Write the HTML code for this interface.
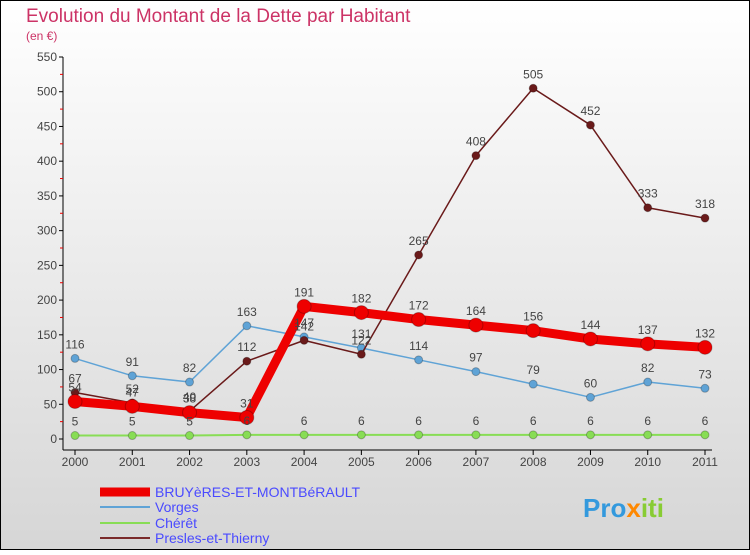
<!DOCTYPE html>
<html><head><meta charset="utf-8"><style>
html,body{margin:0;padding:0}
body{width:750px;height:550px;overflow:hidden;font-family:"Liberation Sans",sans-serif}
svg text{font-family:"Liberation Sans",sans-serif}
</style></head><body>
<svg width="750" height="550" xmlns="http://www.w3.org/2000/svg">
<defs><linearGradient id="bg" x1="0" y1="0" x2="0" y2="1"><stop offset="0" stop-color="#ffffff"/><stop offset="1" stop-color="#d6d6d6"/></linearGradient></defs>
<rect x="0.5" y="0.5" width="749" height="549" fill="url(#bg)" stroke="#000"/>
<text x="26" y="22" font-size="19" fill="#cc3366">Evolution du Montant de la Dette par Habitant</text>
<text x="26" y="40" font-size="12" fill="#cc3366">(en €)</text>
<g id="axes"></g><g id="series"></g><g id="labels"></g>
<g font-size="14" fill="#4a4aff">
<line x1="100" y1="492" x2="150" y2="492" stroke="#ee0000" stroke-width="9"/>
<text x="155" y="497">BRUYèRES-ET-MONTBéRAULT</text>
<line x1="100" y1="507" x2="150" y2="507" stroke="#5fa3d6" stroke-width="2"/>
<text x="155" y="512">Vorges</text>
<line x1="100" y1="523" x2="150" y2="523" stroke="#88dd55" stroke-width="2"/>
<text x="155" y="528">Chérêt</text>
<line x1="100" y1="538" x2="150" y2="538" stroke="#7a2a2a" stroke-width="2"/>
<text x="155" y="543">Presles-et-Thierny</text>
</g>
<text x="583" y="517" font-size="26" font-weight="bold"><tspan fill="#3399dd">Pro</tspan><tspan fill="#ff8800">x</tspan><tspan fill="#88cc33">iti</tspan></text>
</svg>
<script>
const years=[2000,2001,2002,2003,2004,2005,2006,2007,2008,2009,2010,2011];
const yTicks=[0,50,100,150,200,250,300,350,400,450,500,550];
const bruyeres=[54,47,38,31,191,182,172,164,156,144,137,132];
const vorges=[116,91,82,163,147,131,114,97,79,60,82,73];
const cheret=[5,5,5,6,6,6,6,6,6,6,6,6];
const presles=[67,52,40,112,142,122,265,408,505,452,333,318];
const NS="http://www.w3.org/2000/svg";
const xs=i=>75+i*(630/(years.length-1));
const ys=v=>439-v*(382/550);
function mk(t,a,p){const e=document.createElementNS(NS,t);for(const k in a)e.setAttribute(k,a[k]);p.appendChild(e);return e;}
const ax=document.getElementById('axes'),se=document.getElementById('series'),lb=document.getElementById('labels');
let yl=mk('line',{x1:63,y1:ys(550),x2:63,y2:450,stroke:'#000'},ax);


let xl=mk('line',{x1:63,y1:450,x2:712,y2:450,stroke:'#000'},ax);


yTicks.forEach((v,i)=>{
 mk('line',{x1:59,y1:ys(v),x2:63,y2:ys(v),stroke:'#000'},ax);
 if(i<yTicks.length-1)mk('line',{x1:60,y1:ys(v+25),x2:63,y2:ys(v+25),stroke:'#e00'},ax);
 const t=mk('text',{x:57,y:ys(v)+4,'font-size':12,fill:'#444','text-anchor':'end'},ax);
 
 
 t.textContent=v;
});
years.forEach((y,i)=>{
 mk('line',{x1:xs(i),y1:450,x2:xs(i),y2:455,stroke:'#000'},ax);
 const t=mk('text',{x:xs(i),y:466,'font-size':12,fill:'#444','text-anchor':'middle'},ax);
 
 
 t.textContent=y;
});
function draw(data,name,color,w,r){
 const p=mk('polyline',{points:data.map((v,i)=>xs(i)+','+ys(v)).join(' '),fill:'none',stroke:color,'stroke-width':w,'stroke-linejoin':'round'},se);
 
 
 data.forEach((v,i)=>{
  const c=mk('circle',{cx:xs(i),cy:ys(v),r:r,fill:color,stroke:'rgba(0,0,0,0.25)'},se);
  
  
  const t=mk('text',{x:xs(i),y:ys(v)-10,'font-size':12,fill:'#444','text-anchor':'middle'},lb);
  
  
  t.textContent=v;
 });
}
draw(cheret,'cheret','#88dd55',2,4);
draw(vorges,'vorges','#5fa3d6',1.5,4);
draw(presles,'presles','#6a1a1a',1.5,4);
draw(bruyeres,'bruyeres','#ee0000',9,7);
</script>
</body></html>
